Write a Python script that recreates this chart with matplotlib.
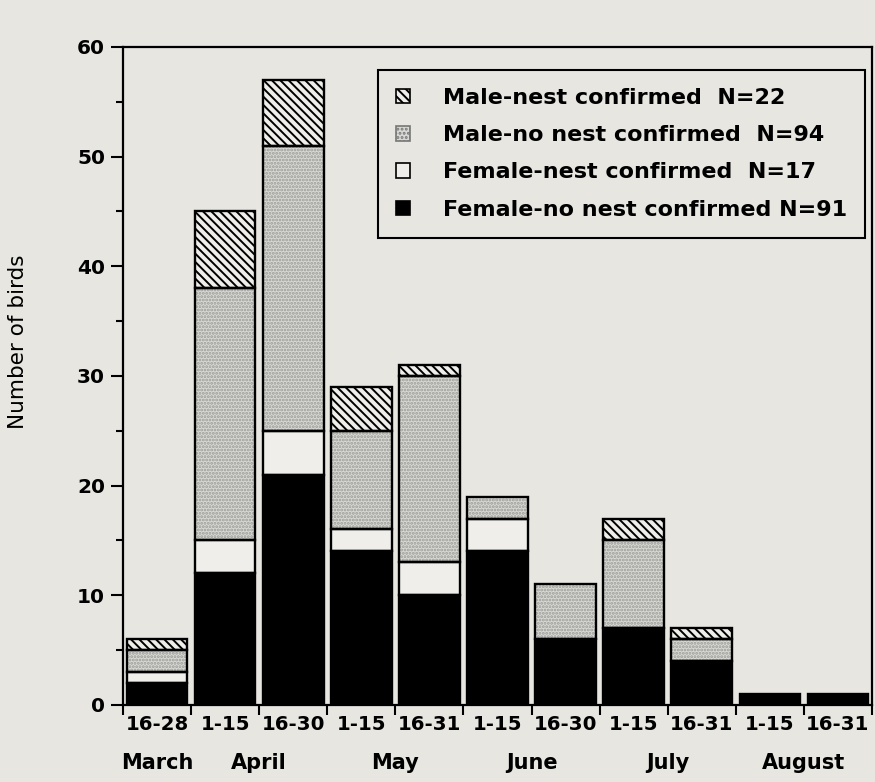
import numpy as np
import matplotlib
matplotlib.use("Agg")
import matplotlib.pyplot as plt
from matplotlib.patches import Patch

# data (birds per half-month period)
periods = ["16-28", "1-15", "16-30", "1-15", "16-31", "1-15", "16-30",
           "1-15", "16-31", "1-15", "16-31"]
months = ["March", "April", "May", "June", "July", "August"]
month_pos = [0, 1.5, 3.5, 5.5, 7.5, 9.5]

female_no_nest = [2, 12, 21, 14, 10, 14, 6, 7, 4, 1, 1]
female_nest = [1, 3, 4, 2, 3, 3, 0, 0, 0, 0, 0]
male_no_nest = [2, 23, 26, 9, 17, 2, 5, 8, 2, 0, 0]
male_nest = [1, 7, 6, 4, 1, 0, 0, 2, 1, 0, 0]

labels = ["Male-nest confirmed  N=22", "Male-no nest confirmed  N=94",
          "Female-nest confirmed  N=17", "Female-no nest confirmed N=91"]

bg = "#e7e6e1"
light = "#efeeea"
stip = "#d8d8d4"

plt.rcParams['font.family'] = ['DejaVu Sans']
plt.rcParams['hatch.linewidth'] = 1.4

fig = plt.figure(figsize=(8.75, 7.82), dpi=100, facecolor=bg)
ax = fig.add_axes([0.1406, 0.0985, 0.856, 0.8415])
ax.set_facecolor(bg)

x = np.arange(len(periods))
w = 0.89
lw = 1.7

b0 = np.zeros(len(x))
b1 = b0 + female_no_nest
b2 = b1 + female_nest
b3 = b2 + male_no_nest

# fills
ax.bar(x, female_no_nest, w, bottom=b0, color="black", linewidth=0)
ax.bar(x, female_nest, w, bottom=b1, color=light, linewidth=0)
ax.bar(x, male_no_nest, w, bottom=b2, facecolor=stip, edgecolor="#9a9a96",
       hatch=".....", linewidth=0)
ax.bar(x, male_nest, w, bottom=b3, facecolor=light, edgecolor="black",
       hatch="\\\\\\\\", linewidth=0)

# outlines of each segment
for vals, bot in [(female_no_nest, b0), (female_nest, b1),
                  (male_no_nest, b2), (male_nest, b3)]:
    vals = np.array(vals)
    m = vals > 0
    ax.bar(x[m], vals[m], w, bottom=bot[m], fill=False, edgecolor="black",
           linewidth=lw)

ax.set_xlim(-0.5, 10.5)
ax.set_ylim(0, 60)

# x ticks at bar boundaries, labels at bar centres
ax.set_xticks(np.arange(-0.5, 11, 1))
ax.set_xticklabels([])
ax.set_xticks(x, minor=True)
ax.set_xticklabels(periods, minor=True, fontsize=14.2, fontweight="bold")
ax.tick_params(axis="x", which="major", direction="out", length=7, width=1.5)
ax.tick_params(axis="x", which="minor", length=0, pad=7)

ax.set_yticks(np.arange(0, 61, 10))
ax.set_yticks(np.arange(5, 60, 10), minor=True)
ax.tick_params(axis="y", which="major", direction="out", length=9, width=1.5,
               labelsize=14.5, pad=4)
ax.tick_params(axis="y", which="minor", direction="out", length=5, width=1.5)
for t in ax.get_yticklabels():
    t.set_fontweight("bold")

for s in ax.spines.values():
    s.set_linewidth(1.6)

trans = ax.get_xaxis_transform()
for m, p in zip(months, month_pos):
    ax.text(p, -0.088, m, transform=trans, ha="center", va="center",
            fontsize=15, fontweight="bold")

ax.set_ylabel("Number of birds", fontsize=15.5)
ax.yaxis.set_label_coords(-0.127, 0.552)

handles = [
    Patch(facecolor=light, edgecolor="black", hatch="\\\\\\\\", linewidth=1.2),
    Patch(facecolor=stip, edgecolor="#777777", hatch="....", linewidth=1.2),
    Patch(facecolor=light, edgecolor="black", linewidth=1.2),
    Patch(facecolor="black", edgecolor="black", linewidth=1.2),
]
leg = ax.legend(handles, labels, loc="upper right",
                bbox_to_anchor=(0.991, 0.965), borderaxespad=0,
                prop={"weight": "bold", "size": 16},
                handlelength=0.65, handleheight=0.65, handletextpad=1.5,
                labelspacing=0.78, borderpad=0.8, fancybox=False,
                edgecolor="black", facecolor=bg, framealpha=1)
leg.get_frame().set_linewidth(1.5)

plt.savefig("out.png", dpi=100, facecolor=bg)
plt.close()
